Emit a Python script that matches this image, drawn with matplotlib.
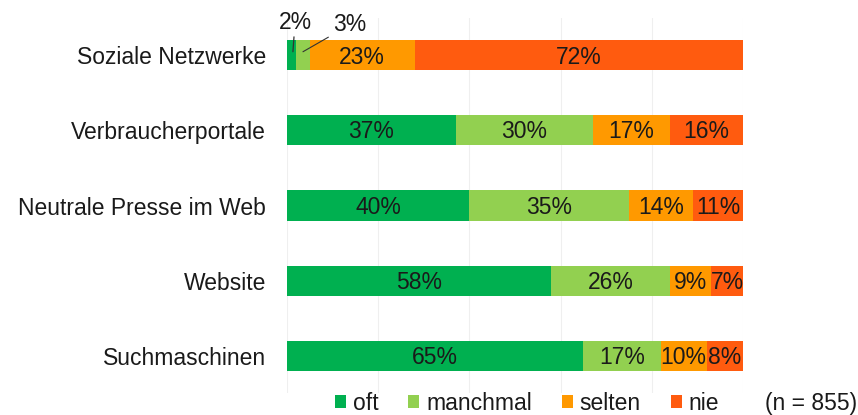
import matplotlib
matplotlib.use("Agg")
import matplotlib.pyplot as plt
import numpy as np

plt.rcParams['font.family'] = ['Liberation Sans', 'DejaVu Sans']

categories = ["Soziale Netzwerke", "Verbraucherportale", "Neutrale Presse im Web",
              "Website", "Suchmaschinen"]
series = ["oft", "manchmal", "selten", "nie"]
oft = [2, 37, 40, 58, 65]
manchmal = [3, 30, 35, 26, 17]
selten = [23, 17, 14, 9, 10]
nie = [72, 16, 11, 7, 8]
colors = ["#00B050", "#92D050", "#FF9900", "#FF5B0F"]

values = [oft, manchmal, selten, nie]
FS = 16.5
TXT = "#1a1a1a"

fig = plt.figure(figsize=(8.58, 4.15), dpi=100)
ax = fig.add_axes([287 / 858, 1 - 393 / 415, 456 / 858, 375 / 415])

y = np.arange(len(categories))
left = np.zeros(len(categories))
for name, vals, col in zip(series, values, colors):
    vals = np.array(vals, dtype=float)
    ax.barh(y, vals, left=left, height=0.4, color=col, label=name, zorder=3)
    for i, v in enumerate(vals):
        if v >= 5:
            ax.text(left[i] + v / 2, y[i] + 0.02, f"{int(v)}%", ha="center", va="center",
                    fontsize=FS, color=TXT, zorder=4)
    left += vals

# small segments of the first row get callouts
ax.annotate("2%", xy=(oft[0] / 2 + 0.3, -0.05), xytext=(1.5, 21), textcoords="offset points",
            ha="center", va="center", fontsize=FS, color=TXT,
            arrowprops=dict(arrowstyle="-", color="#333333", lw=0.9, shrinkA=0, shrinkB=0),
            annotation_clip=False, zorder=5)
ax.annotate("3%", xy=(oft[0] + manchmal[0] / 2, -0.05), xytext=(34, 19.5), textcoords="offset points",
            ha="center", va="center", fontsize=FS, color=TXT,
            arrowprops=dict(arrowstyle="-", color="#333333", lw=0.8, shrinkA=2, shrinkB=0),
            annotation_clip=False, zorder=5)

ax.set_xlim(0, 100)
ax.set_ylim(len(categories) - 0.5, -0.5)
ax.set_yticks(y)
ax.set_yticklabels(categories, fontsize=FS, color=TXT)
ax.set_xticks([0, 20, 40, 60, 80, 100])
ax.set_xticklabels([])
ax.tick_params(axis="both", length=0, pad=15)
ax.grid(axis="x", color="#EFEFEF", lw=0.8, zorder=0)
for s in ax.spines.values():
    s.set_visible(False)

leg = fig.legend(loc="center", bbox_to_anchor=(527 / 858, 1 - 403 / 415), ncol=4,
                 frameon=False, fontsize=FS, handlelength=0.48, handleheight=0.48,
                 handletextpad=0.3, columnspacing=1.3, borderpad=0)
for t in leg.get_texts():
    t.set_color(TXT)
fig.text(811 / 858, 1 - 403 / 415, "(n = 855)", ha="center", va="center",
         fontsize=FS, color=TXT)

fig.savefig("out.png", dpi=100)
